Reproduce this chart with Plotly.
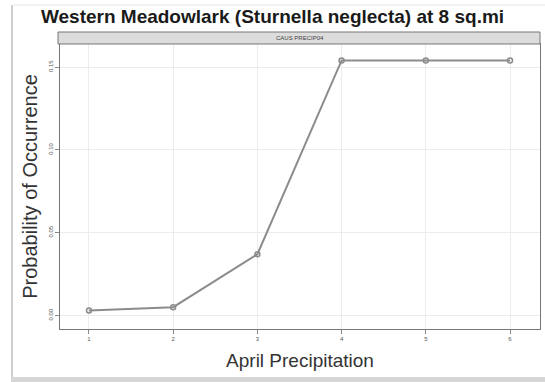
import plotly.graph_objects as go

# Predicted probability of occurrence by April precipitation class
precip_class = [1, 2, 3, 4, 5, 6]
probability = [0.003, 0.005, 0.037, 0.154, 0.154, 0.154]
y_ticks = [0.00, 0.05, 0.10, 0.15]
y_tick_text = ["0.00", "0.05", "0.10", "0.15"]
x_ticks = [1, 2, 3, 4, 5, 6]

title_text = "Western Meadowlark (Sturnella neglecta) at 8 sq.mi"
strip_text = "CAUS PRECIP04"

W, H = 545, 382
ML, MR, MT, MB = 60, 5, 44, 53
plot_w = W - ML - MR
plot_h = H - MT - MB


def px_x(px):
    return (px - ML) / plot_w


def px_y(py):
    return (H - MB - py) / plot_h


fig = go.Figure()
fig.add_trace(go.Scatter(
    x=precip_class, y=probability, mode="lines+markers",
    line=dict(color="#8c8c8c", width=2),
    marker=dict(symbol="circle-open", size=5, color="#8c8c8c",
                line=dict(width=1.5, color="#8c8c8c")),
    showlegend=False,
))

axis_font = dict(family="Liberation Sans, Arial, sans-serif", size=6, color="#555")

fig.update_layout(
    width=W, height=H,
    margin=dict(l=ML, r=MR, t=MT, b=MB),
    paper_bgcolor="white", plot_bgcolor="white",
    font=dict(family="Liberation Sans, Arial, sans-serif", color="#222"),
    title=dict(text=f"<b>{title_text}</b>", x=0.5, xanchor="center",
               y=1 - 16 / H, yanchor="middle",
               font=dict(size=19, color="#1a1a1a")),
    xaxis=dict(range=[0.656, 6.356], tickvals=x_ticks, ticks="outside",
               ticklen=4, tickcolor="#888", tickfont=axis_font,
               showgrid=True, gridcolor="#ececec", gridwidth=1,
               zeroline=False, showline=True, linecolor="#777", linewidth=1,
               mirror=True,
               title=dict(text="April Precipitation", standoff=12,
                          font=dict(size=19, color="#333"))),
    yaxis=dict(range=[-0.00815, 0.1639], tickvals=y_ticks, ticktext=y_tick_text,
               tickangle=-90, ticks="outside", ticklen=4, tickcolor="#888",
               tickfont=axis_font,
               showgrid=True, gridcolor="#ececec", gridwidth=1,
               zeroline=False, showline=True, linecolor="#777", linewidth=1,
               mirror=True,
               title=dict(text="Probability of Occurrence", standoff=4,
                          font=dict(size=20, color="#333"))),
)

# Panel strip above the plotting region
fig.add_shape(type="rect", xref="paper", yref="paper",
              x0=px_x(58), x1=px_x(540), y0=1, y1=px_y(32),
              fillcolor="#dcdcdc", line=dict(color="#777", width=1), layer="above")
fig.add_annotation(text=strip_text, xref="paper", yref="paper",
                   x=0.5, y=(1 + px_y(32)) / 2, showarrow=False,
                   font=dict(size=6, color="#444"), yanchor="middle")

# Outer frame around the figure
fig.add_shape(type="line", xref="paper", yref="paper",
              x0=px_x(12), x1=px_x(12), y0=px_y(5), y1=px_y(378),
              line=dict(color="#cfcfcf", width=2))
fig.add_shape(type="line", xref="paper", yref="paper",
              x0=px_x(12), x1=px_x(548), y0=px_y(5), y1=px_y(5),
              line=dict(color="#e4e4e4", width=1))
fig.add_shape(type="rect", xref="paper", yref="paper",
              x0=px_x(11), x1=px_x(548), y0=px_y(377), y1=px_y(384),
              fillcolor="#d6d6d6", line=dict(width=0))

fig.write_html("out.html")
